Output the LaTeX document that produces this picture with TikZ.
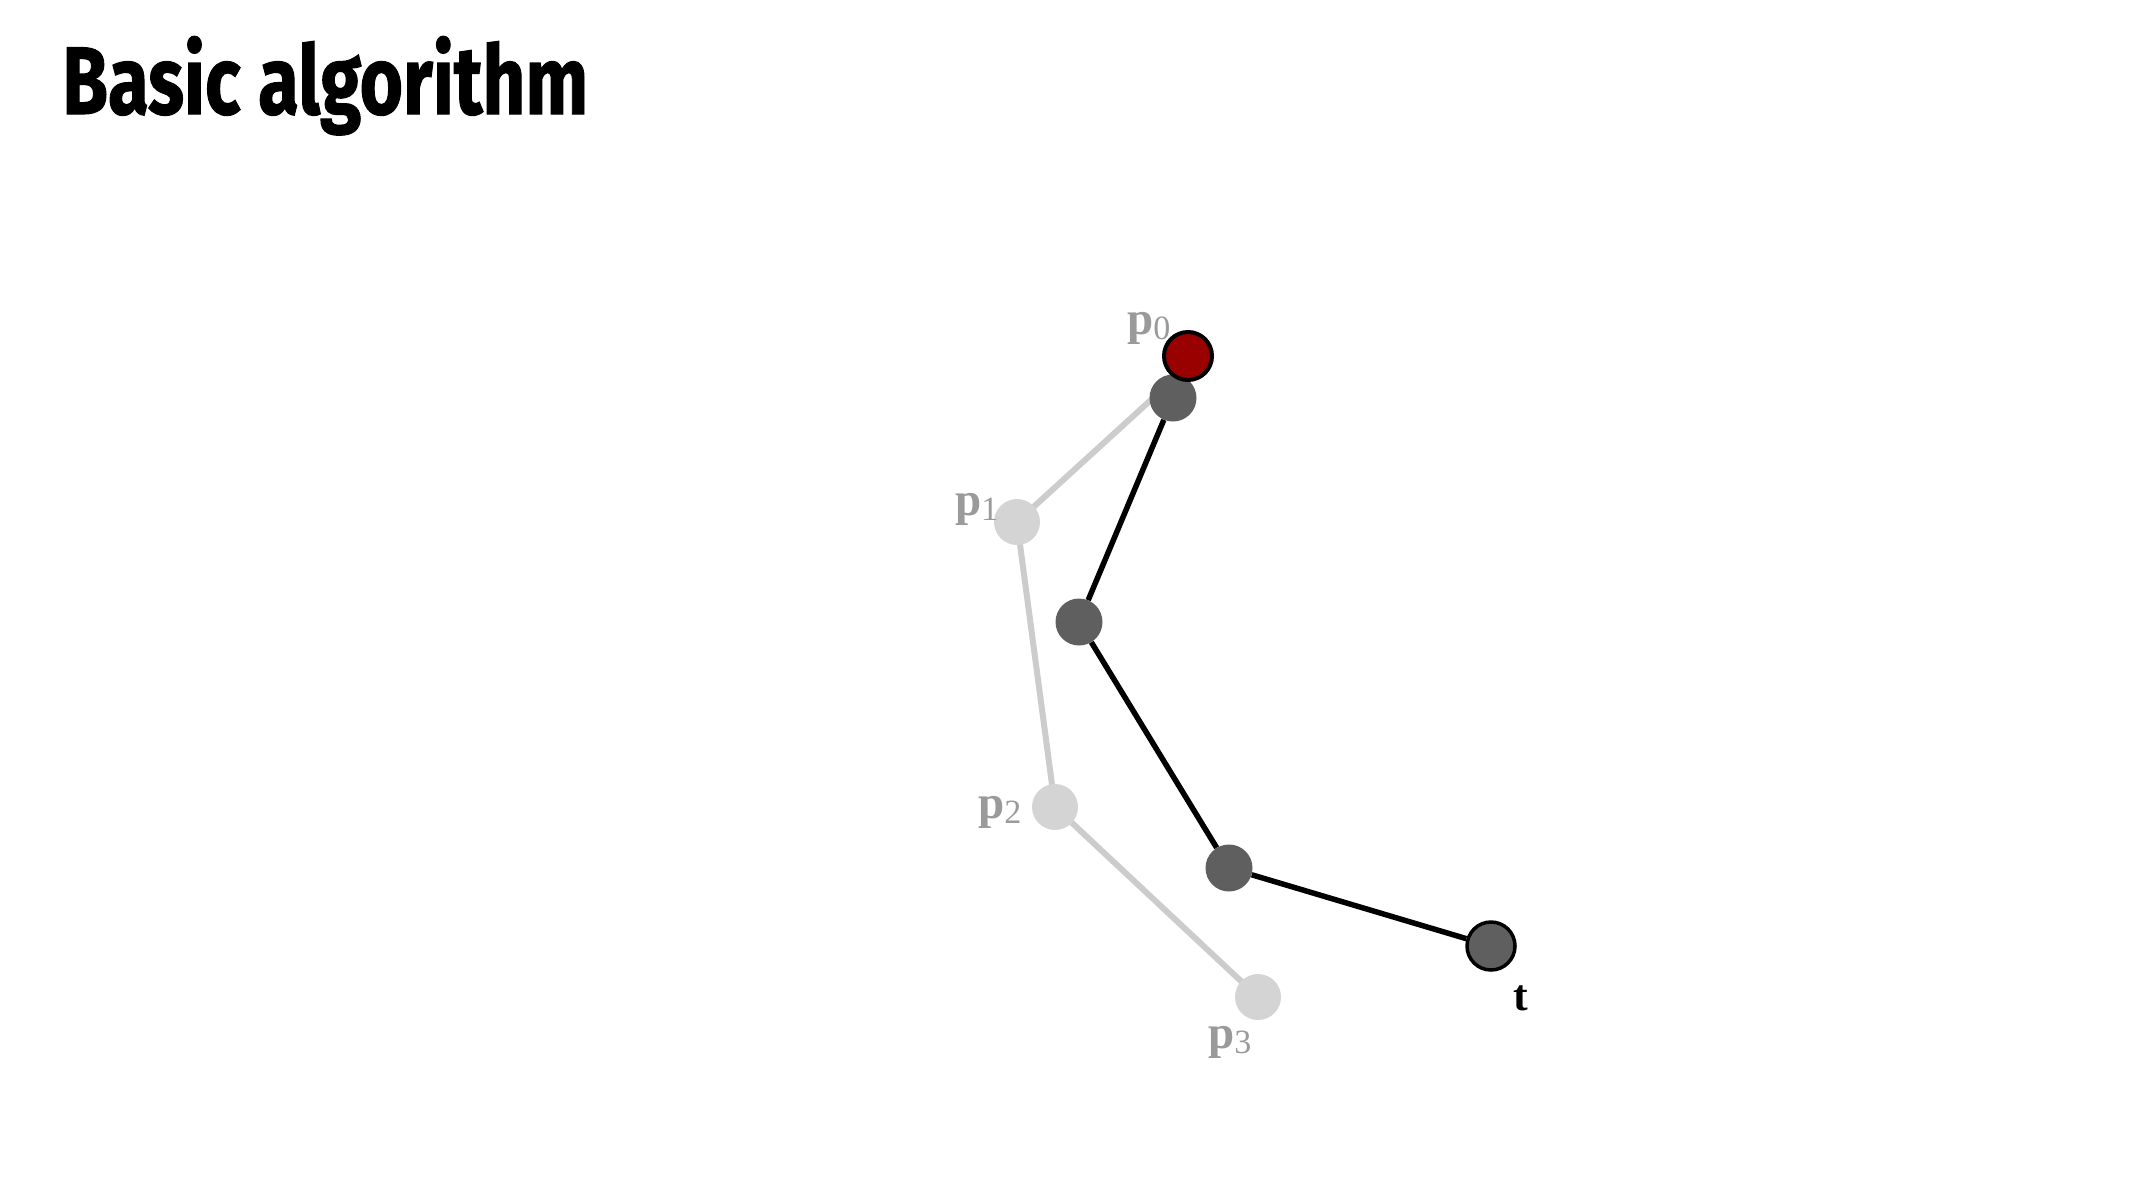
\documentclass[tikz,border=0pt]{standalone}
\usepackage{fontspec}
\usepackage{graphicx}
\setmainfont{Liberation Serif}
\newfontfamily\titlefont{Fira Sans}[BoldFeatures={FakeBold=1.2}]
\definecolor{lightdot}{HTML}{D4D4D4}
\definecolor{lightline}{HTML}{CCCCCC}
\definecolor{labgray}{HTML}{9A9A9A}
\definecolor{darkdot}{HTML}{5F5F5F}
\definecolor{reddot}{HTML}{990000}
\newcommand\plab[1]{\textbf{p}\raisebox{-5pt}{\fontsize{34}{34}\selectfont #1}}
\tikzset{
  lightpt/.style={circle,fill=lightdot,minimum size=46pt,inner sep=0pt},
  darkpt/.style={circle,fill=darkdot,minimum size=47pt,inner sep=0pt},
  targetpt/.style={circle,fill=darkdot,draw=black,line width=3.5pt,minimum size=48pt,inner sep=0pt},
  redpt/.style={circle,fill=reddot,draw=black,line width=4pt,minimum size=48pt,inner sep=0pt},
  lightlink/.style={draw=lightline,line width=6pt},
  darklink/.style={draw=black,line width=5.5pt},
  plabel/.style={anchor=base west,inner sep=0pt,text=labgray,font=\fontsize{47}{47}\selectfont},
  tlabel/.style={anchor=base west,inner sep=0pt,text=black,font=\fontsize{44}{44}\selectfont\bfseries},
}
\begin{document}
\begin{tikzpicture}[x=1pt,y=-1pt]
\useasboundingbox (0,0) rectangle (2133,1200);
\node[anchor=base west,inner sep=0pt] (title) at (62,114)
  {\resizebox{526pt}{\height}{\titlefont\bfseries\fontsize{96}{96}\selectfont Basic algorithm}};
% light chain
\coordinate (p0c) at (1175,378);
\coordinate (p1c) at (1017,522);
\coordinate (p2c) at (1055,807);
\coordinate (p3c) at (1258,997);
\path[lightlink] (p0c) -- (p1c);
\path[lightlink] (p1c) -- (p2c);
\path[lightlink] (p2c) -- (p3c);
\node[lightpt] (p1) at (p1c) {};
\node[lightpt] (p2) at (p2c) {};
\node[lightpt] (p3) at (p3c) {};
% dark chain
\node[darkpt] (d1) at (1173,398) {};
\node[darkpt] (d2) at (1079,622) {};
\node[darkpt] (d3) at (1229,868) {};
\node[targetpt] (t) at (1491,946) {};
\draw[darklink] (d1) -- (d2);
\draw[darklink] (d2) -- (d3);
\draw[darklink] (d3) -- (t);
\node[redpt] (p0) at (1188,356) {};
% labels
\node[plabel] (lp0) at (1127,334) {\plab{0}};
\node[plabel] (lp1) at (955,515) {\plab{1}};
\node[plabel] (lp2) at (978,818) {\plab{2}};
\node[plabel] (lp3) at (1208,1048) {\plab{3}};
\node[tlabel] (lt) at (1513,1010) {t};
\end{tikzpicture}
\end{document}
